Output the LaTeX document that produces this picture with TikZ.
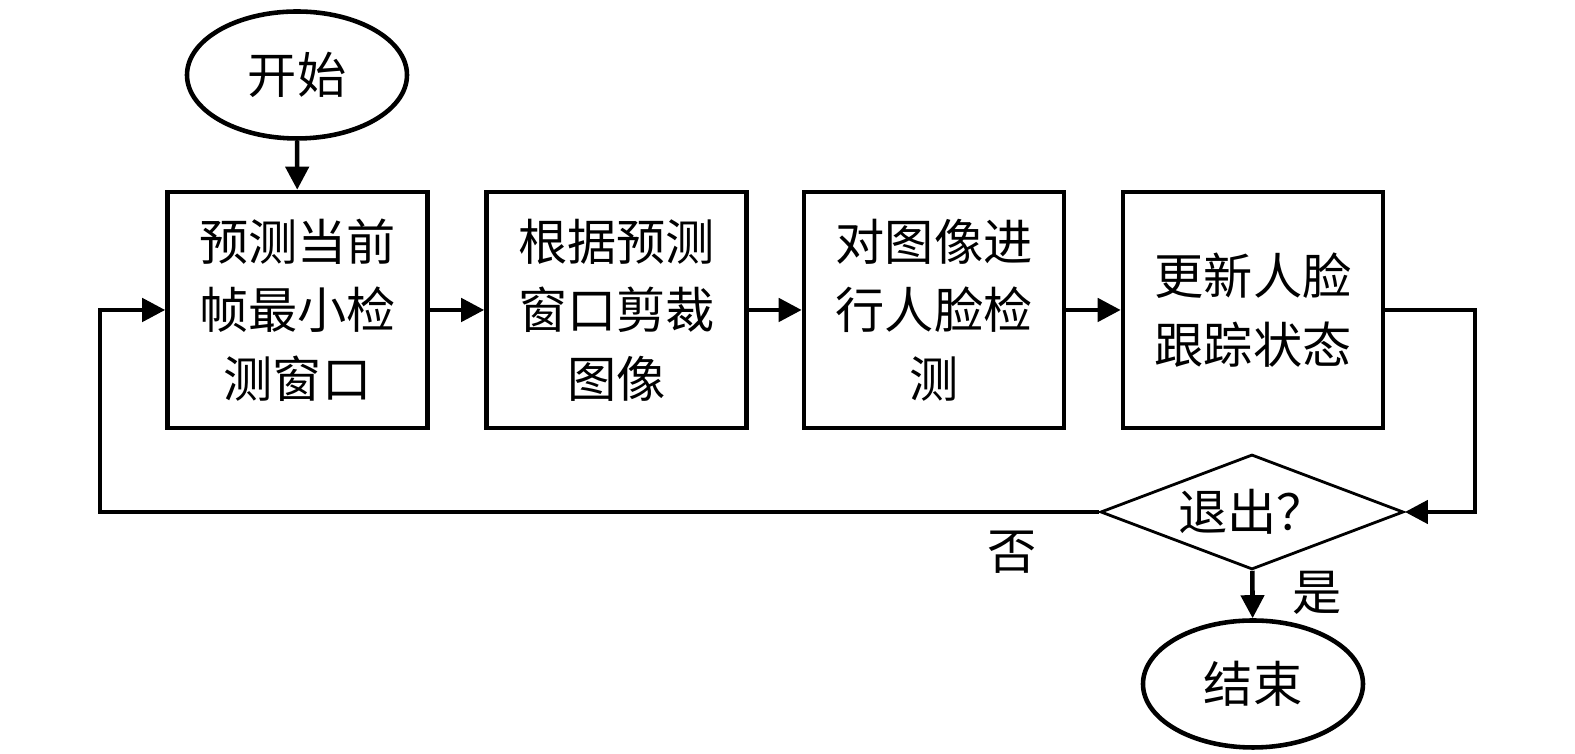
\documentclass[tikz,border=0pt]{standalone}
\usepackage{fontspec}
\setmainfont{Noto Sans CJK SC}
\usepackage{tikz}
\usetikzlibrary{shapes.geometric,positioning,arrows.meta}

\begin{document}
\begin{tikzpicture}[font=\fontsize{14pt}{19.5pt}\selectfont,
    proc/.style={draw,line width=1.3pt,rectangle,align=center,minimum width=2.6cm,minimum height=2.36cm,inner sep=0pt},
    term/.style={draw,line width=1.3pt,ellipse,minimum width=2.2cm,minimum height=1.27cm,inner sep=0pt},
    cond/.style={draw,thick,diamond,aspect=2.6,minimum width=3.03cm,minimum height=1.15cm,inner sep=0pt}]
        \useasboundingbox (0,0) rectangle (15.75,7.54);
        \node[term] at (2.97,6.79) (5b1e07a3) {开始};
        \node[proc] at (2.975,4.44) (c42d9e10) {预测当前\\帧最小检\\测窗口};
        \node[proc] at (6.165,4.44) (7a90f3b2) {根据预测\\窗口剪裁\\图像};
        \node[proc] at (9.34,4.44) (e3f86c41) {对图像进\\行人脸检\\测};
        \node[proc] at (12.53,4.44) (19d4ab7e) {更新人脸\\跟踪状态};
        \node[cond] at (12.52,2.42) (8fc2605d) {退出？};
        \node[term] at (12.53,0.70) (d06b5e29) {结束};
        \node at (10.12,2.02) (4e7c1a88) {否};
        \node at (13.17,1.61) (a3f09b64) {是};
        \coordinate (0b7e3d15) at (14.75,2.42);
        \coordinate (f2a48c07) at (1.00,2.42);
        \path[->, line width=1.3pt, >={Triangle[length=2.3mm,width=2.3mm]}]
        (5b1e07a3) edge (c42d9e10)
        (c42d9e10) edge (7a90f3b2)
        (7a90f3b2) edge (e3f86c41)
        (e3f86c41) edge (19d4ab7e)
        (8fc2605d) edge (d06b5e29)
        ;
        \draw[->, line width=1.3pt, >={Triangle[length=2.3mm,width=2.3mm]}]
        (19d4ab7e.east) -| (0b7e3d15) -- (8fc2605d.east);
        \draw[->, line width=1.3pt, >={Triangle[length=2.3mm,width=2.3mm]}]
        (8fc2605d.west) -- (f2a48c07) |- (c42d9e10.west);
    \end{tikzpicture}
\end{document}
